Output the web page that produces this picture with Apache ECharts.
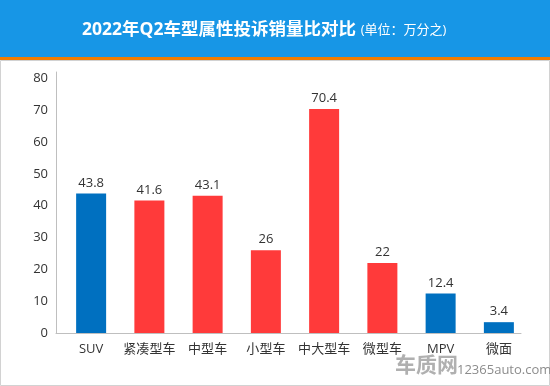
<!DOCTYPE html>
<html><head><meta charset="utf-8">
<script src="https://cdn.jsdelivr.net/npm/echarts@6/dist/echarts.min.js"></script>
<style>html,body{margin:0;padding:0;background:#fff}#c{width:550px;height:386px}</style>
</head><body><div id="c"></div>
<script>
const categories = ['SUV','紧凑型车','中型车','小型车','中大型车','微型车','MPV','微面'];
const values = [43.8, 41.6, 43.1, 26, 70.4, 22, 12.4, 3.4];
const barColors = ['#0070c0','#ff3a3a','#ff3a3a','#ff3a3a','#ff3a3a','#ff3a3a','#0070c0','#0070c0'];
const yTicks = [0,10,20,30,40,50,60,70,80];

const FONT = '"Open Sans","Noto Sans CJK SC",sans-serif';
const chart = echarts.init(document.getElementById('c'));
chart.setOption({
  animation: false,
  backgroundColor: '#fff',
  textStyle: {fontFamily: FONT},
  graphic: [
    {type:'rect', shape:{x:0,y:0,width:550,height:57}, style:{fill:'#1796e6'}, z:0},
    {type:'rect', shape:{x:0,y:57,width:550,height:3}, style:{fill:'#f07c00'}, z:0},
    {type:'rect', shape:{x:0.5,y:60.5,width:549,height:325}, style:{fill:'none',stroke:'#d2d2d2',lineWidth:1}, z:0},
    {type:'text', left:395, top:354, style:{text:'车质网', fill:'#b0b0b0', font:'bold 21px "Noto Sans CJK SC"'}, z:10},
    {type:'text', left:457, top:364, style:{text:'12365auto.com', fill:'#8c8c8c', font:'13px "Open Sans",sans-serif'}, z:10}
  ],
  title: {
    left: 77, top: 16,
    text: '{a|2022年Q2车型属性投诉销量比对比} {b|(单位：万分之)}',
    textStyle: {
      rich: {
        a: {color:'#fff', fontSize:17.5, fontWeight:'bold', fontFamily:FONT},
        b: {color:'#fff', fontSize:13, fontWeight:'normal', fontFamily:FONT}
      }
    }
  },
  grid: [
    {left:62, right:22, top:72, bottom:53},
    {left:56, right:29, top:72, bottom:53}
  ],
  xAxis: [
    {type:'category', gridIndex:0, data:categories,
     axisLine:{show:false}, axisTick:{show:false},
     axisLabel:{color:'#333', fontSize:13, margin:10, interval:0, fontFamily:FONT}},
    {type:'category', gridIndex:1, data:categories,
     axisLine:{show:true, lineStyle:{color:'#bfbfbf', width:1}}, axisTick:{show:false},
     axisLabel:{show:false}}
  ],
  yAxis: [
    {type:'value', gridIndex:0, min:0, max:82, interval:10, offset:6,
     axisLine:{show:true, lineStyle:{color:'#bfbfbf', width:1}}, axisTick:{show:false},
     splitLine:{show:false},
     axisLabel:{color:'#333', fontSize:13, margin:8, fontFamily:FONT,
       formatter: v => yTicks.indexOf(v) >= 0 ? String(v) : ''}},
    {type:'value', gridIndex:1, min:0, max:82, show:false, splitLine:{show:false}}
  ],
  series: [{
    type:'bar', xAxisIndex:0, yAxisIndex:0, barWidth:30,
    data: values.map((v,i)=>({value:v, itemStyle:{color:barColors[i]}})),
    label:{show:true, position:'top', distance:4, color:'#333', fontSize:13, fontFamily:FONT}
  }]
});
</script></body></html>
